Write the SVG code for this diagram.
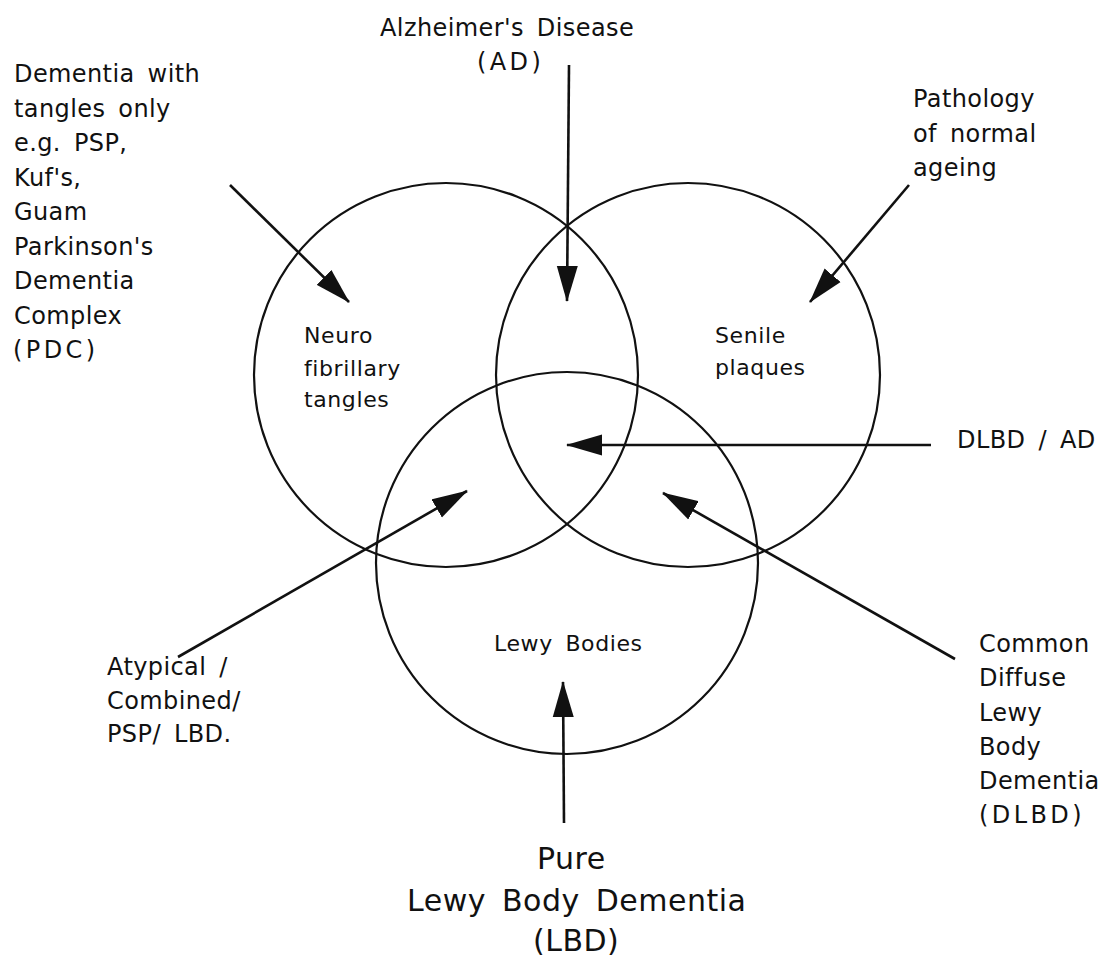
<svg xmlns="http://www.w3.org/2000/svg" width="1102" height="957" viewBox="0 0 1102 957">
  <defs>
    <style>
      .circ { fill: none; stroke: #111; stroke-width: 2.2; }
      .conn { fill: none; stroke: #111; stroke-width: 2.6; marker-end: url(#ah); }
      text { font-family: "DejaVu Sans", Verdana, "Liberation Sans", sans-serif; fill: #111; }
      .lbl { font-size: 24px; letter-spacing: 0.4px; word-spacing: 5px; }
      .in { font-size: 22px; letter-spacing: 0.6px; word-spacing: 5px; }
      .big { font-size: 30px; letter-spacing: 0.5px; word-spacing: 6px; }
      .par { letter-spacing: 3.4px; }
    </style>
    <marker id="ah" markerUnits="userSpaceOnUse" markerWidth="36" markerHeight="22" refX="35" refY="10.5" orient="auto" viewBox="0 0 36 21">
      <path d="M0,0 L36,10.5 L0,21 z" fill="#111"/>
    </marker>
  </defs>
  <rect width="1102" height="957" fill="#fff"/>

  <g id="connectors">
    <line class="conn" x1="569" y1="65" x2="567" y2="301"/>
    <line class="conn" x1="230" y1="185" x2="349" y2="302"/>
    <line class="conn" x1="909" y1="185" x2="810" y2="302"/>
    <line class="conn" x1="931" y1="445" x2="567" y2="445"/>
    <line class="conn" x1="955" y1="659" x2="663" y2="493"/>
    <line class="conn" x1="178" y1="657" x2="467" y2="491"/>
    <line class="conn" x1="564" y1="823" x2="563" y2="682"/>
  </g>

  <g id="node-neurofibrillary-tangles">
    <circle class="circ" cx="446" cy="375" r="192"/>
    <text class="in" x="304" y="343">Neuro</text>
    <text class="in" x="304" y="375.5">fibrillary</text>
    <text class="in" x="304" y="407">tangles</text>
  </g>

  <g id="node-senile-plaques">
    <circle class="circ" cx="688" cy="375" r="192"/>
    <text class="in" x="715" y="343">Senile</text>
    <text class="in" x="715" y="375">plaques</text>
  </g>

  <g id="node-lewy-bodies">
    <circle class="circ" cx="567" cy="563" r="191"/>
    <text class="in" x="494" y="651">Lewy Bodies</text>
  </g>

  <g id="node-alzheimers">
    <text class="lbl" x="380" y="36">Alzheimer's Disease</text>
    <text class="lbl par" x="477" y="70">(AD)</text>
  </g>

  <g id="node-tangles-only">
    <text class="lbl" x="14" y="82">Dementia with</text>
    <text class="lbl" x="14" y="116.5">tangles only</text>
    <text class="lbl" x="14" y="151">e.g. PSP,</text>
    <text class="lbl" x="14" y="185.5">Kuf's,</text>
    <text class="lbl" x="14" y="220">Guam</text>
    <text class="lbl" x="14" y="254.5">Parkinson's</text>
    <text class="lbl" x="14" y="289">Dementia</text>
    <text class="lbl" x="14" y="323.5">Complex</text>
    <text class="lbl par" x="13" y="358">(PDC)</text>
  </g>

  <g id="node-normal-ageing">
    <text class="lbl" x="913" y="107">Pathology</text>
    <text class="lbl" x="913" y="141.5">of normal</text>
    <text class="lbl" x="913" y="175.5">ageing</text>
  </g>

  <g id="node-dlbd-ad">
    <text class="lbl" x="957" y="448">DLBD / AD</text>
  </g>

  <g id="node-atypical">
    <text class="lbl" x="107" y="675">Atypical /</text>
    <text class="lbl" x="107" y="708.5">Combined/</text>
    <text class="lbl" x="107" y="742">PSP/  LBD.</text>
  </g>

  <g id="node-common-dlbd">
    <text class="lbl" x="979" y="652">Common</text>
    <text class="lbl" x="979" y="686">Diffuse</text>
    <text class="lbl" x="979" y="720.5">Lewy</text>
    <text class="lbl" x="979" y="754.5">Body</text>
    <text class="lbl" x="979" y="788.5">Dementia</text>
    <text class="lbl par" x="979" y="823">(DLBD)</text>
  </g>

  <g id="node-pure-lbd">
    <text class="big" x="537" y="869">Pure</text>
    <text class="big" x="407" y="911">Lewy Body Dementia</text>
    <text class="big" x="533" y="951">(LBD)</text>
  </g>
</svg>
